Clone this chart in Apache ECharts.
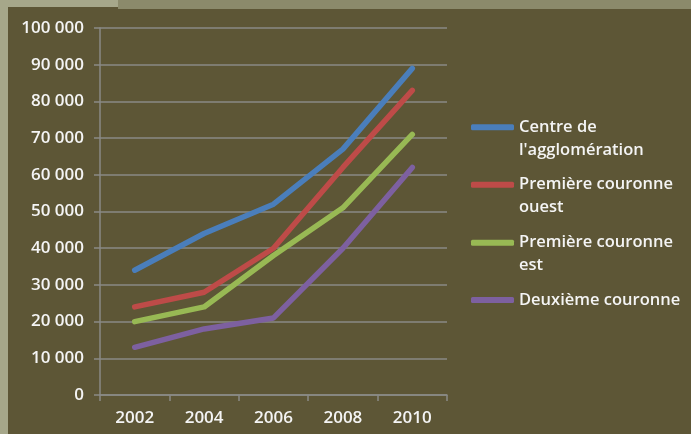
<!DOCTYPE html>
<html>
<head>
<meta charset="utf-8">
<script src="https://cdn.jsdelivr.net/npm/echarts@6/dist/echarts.min.js"></script>
<style>
  html, body { margin: 0; padding: 0; background: #5d5636; }
  #chart { width: 691px; height: 434px; }
</style>
</head>
<body>
<div id="chart"></div>
<script>
// données
const years = ['2002', '2004', '2006', '2008', '2010']
const centre = [34000, 44000, 52000, 67000, 89000]
const premiereOuest = [24000, 28000, 40000, 62000, 83000]
const premiereEst = [20000, 24000, 38000, 51000, 71000]
const deuxieme = [13000, 18000, 21000, 40000, 62000]

const names = ["Centre de l'agglomération", 'Première couronne ouest', 'Première couronne est', 'Deuxième couronne']
// libellés de légende sur deux lignes (ligne vide en tête pour aligner le trait sur la 1re ligne)
const legendLabels = {
  "Centre de l'agglomération": "\nCentre de\nl'agglomération",
  'Première couronne ouest': '\nPremière couronne\nouest',
  'Première couronne est': '\nPremière couronne\nest',
  'Deuxième couronne': 'Deuxième couronne'
}
const colors = ['#4a7ebb', '#be4b48', '#98b954', '#7d60a0']
const values = [centre, premiereOuest, premiereEst, deuxieme]

const font = '"Open Sans", Lato, sans-serif'
const textColor = '#f4f4f4'

const chart = echarts.init(document.getElementById('chart'))

// une légende par série, placée à la main
const legendTops = [92.8, 150.2, 208.2, 288.5]
const legends = names.map((n, i) => ({
  data: [n],
  orient: 'vertical',
  left: 471,
  top: legendTops[i],
  padding: 0,
  icon: 'roundRect',
  itemWidth: 43,
  itemHeight: 6,
  formatter: (name) => legendLabels[name],
  textStyle: {
    color: textColor,
    fontFamily: font,
    fontWeight: 600,
    fontSize: 16.5,
    lineHeight: 23
  },
  selectedMode: false
}))

const options = {
  backgroundColor: '#5d5636',
  animation: false,
  color: colors,
  graphic: [
    { type: 'rect', left: 0, top: 0, shape: { width: 8, height: 434 }, style: { fill: '#a6a78a' }, silent: true },
    { type: 'rect', left: 0, top: 0, shape: { width: 118, height: 7 }, style: { fill: '#a6a78a' }, silent: true },
    { type: 'rect', left: 118, top: 0, shape: { width: 573, height: 9 }, style: { fill: '#8b8a6b' }, silent: true }
  ],
  legend: legends,
  grid: {
    left: 100,
    right: 244,
    top: 28,
    bottom: 39
  },
  xAxis: {
    type: 'category',
    data: years,
    boundaryGap: true,
    axisLine: { lineStyle: { color: '#8a8a86', width: 1.5 } },
    axisTick: { show: true, length: 6, lineStyle: { color: '#8a8a86', width: 1.5 } },
    axisLabel: {
      color: textColor,
      fontFamily: font,
      fontWeight: 600,
      fontSize: 17,
      margin: 15
    }
  },
  yAxis: {
    type: 'value',
    min: 0,
    max: 100000,
    interval: 10000,
    axisLine: { show: true, lineStyle: { color: '#8a8a86', width: 1.5 } },
    axisTick: { show: true, length: 6, lineStyle: { color: '#8a8a86', width: 1.5 } },
    splitLine: { lineStyle: { color: '#8a8a86', width: 1.5 } },
    axisLabel: {
      color: textColor,
      fontFamily: font,
      fontWeight: 600,
      fontSize: 17,
      margin: 16,
      formatter: (v) => v === 0 ? '0' : String(v).replace(/\B(?=(\d{3})+(?!\d))/g, ' ')
    }
  },
  series: names.map((n, i) => ({
    name: n,
    type: 'line',
    data: values[i],
    symbol: 'none',
    lineStyle: { width: 5.5, cap: 'round', join: 'round', color: colors[i] }
  }))
}

chart.setOption(options)
</script>
</body>
</html>
